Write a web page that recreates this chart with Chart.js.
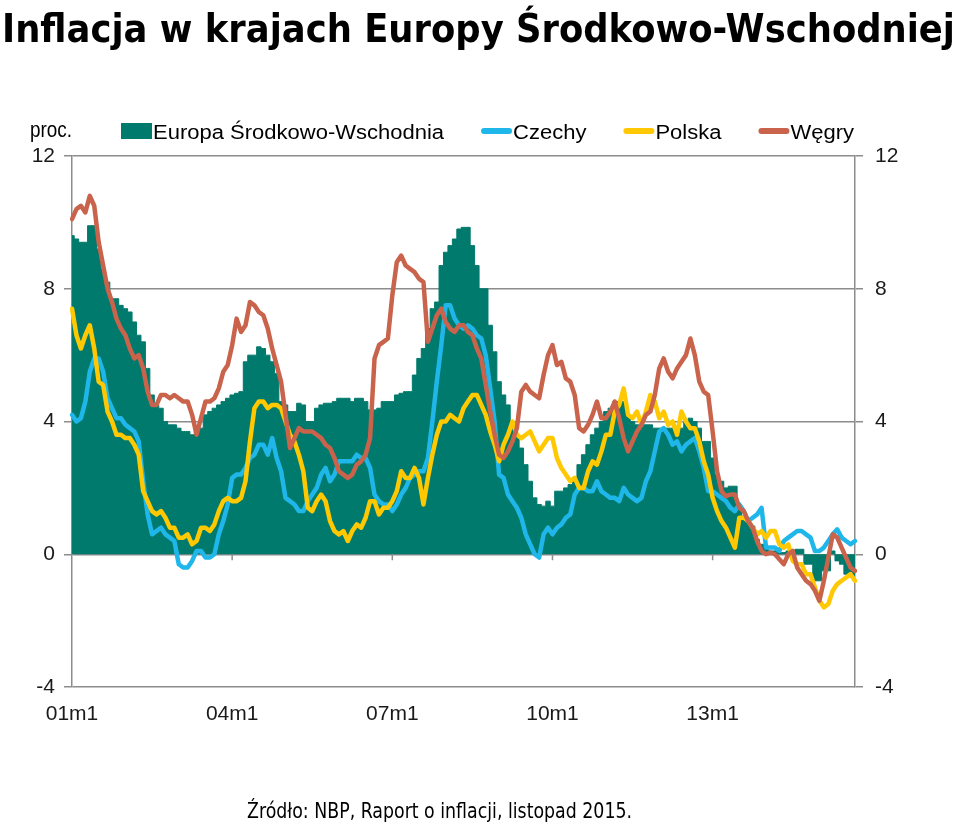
<!DOCTYPE html>
<html>
<head>
<meta charset="utf-8">
<title>Inflacja w krajach Europy Środkowo-Wschodniej</title>
<script src="https://cdn.jsdelivr.net/npm/chart.js@4.4.1/dist/chart.umd.min.js"></script>
<style>
  html, body { margin: 0; padding: 0; background: #fff; }
  #wrap { position: relative; width: 960px; height: 822px; }
</style>
</head>
<body>
<div id="wrap"><canvas id="inflChart" width="960" height="822"></canvas></div>
<script>
// months 2001m1 .. 2015m9
const months = [];
for (let y = 1; y <= 15; y++) {
  for (let m = 1; m <= 12; m++) {
    if (y === 15 && m > 9) break;
    months.push((y < 10 ? '0' : '') + y + 'm' + m);
  }
}
const tickLabels = ['01m1', '04m1', '07m1', '10m1', '13m1'];

// CPI r/r, proc.
const cee = [
  9.6, 9.5, 9.4, 9.4, 9.9, 9.9, 9.2, 8.6, 8.2, 7.7, 7.7, 7.5,      // 2001
  7.4, 7.3, 7.0, 6.6, 6.4, 5.6, 4.8, 4.5, 4.4, 4.0, 3.9, 3.9,      // 2002
  3.8, 3.7, 3.7, 3.6, 3.7, 3.8, 4.2, 4.3, 4.4, 4.5, 4.6, 4.7,      // 2003
  4.8, 4.85, 4.9, 5.8, 6.0, 6.0, 6.25, 6.2, 6.0, 5.8, 5.45, 4.6,   // 2004
  4.5, 4.3, 4.3, 4.55, 4.5, 4.0, 4.0, 4.4, 4.5, 4.55, 4.55, 4.6,   // 2005
  4.7, 4.7, 4.7, 4.6, 4.7, 4.7, 4.6, 4.35, 4.35, 4.4, 4.6, 4.6,    // 2006
  4.6, 4.8, 4.85, 4.9, 4.9, 5.4, 5.9, 6.2, 6.8, 7.4, 7.6, 8.7,     // 2007
  9.1, 9.3, 9.5, 9.8, 9.85, 9.85, 9.3, 8.7, 8.0, 8.0, 6.9, 6.1,    // 2008
  5.2, 4.8, 4.5, 4.0, 3.6, 3.2, 2.7, 2.2, 1.7, 1.5, 1.45, 1.6,     // 2009
  1.45, 1.9, 1.9, 2.0, 2.1, 2.3, 2.7, 3.0, 3.3, 3.6, 3.8, 4.0,     // 2010
  4.3, 4.4, 4.6, 4.6, 4.6, 4.2, 4.0, 3.9, 3.9, 3.9, 3.9, 3.8,      // 2011
  3.8, 3.8, 3.8, 3.8, 3.8, 3.8, 4.0, 4.1, 4.0, 3.8, 3.4, 3.4,      // 2012
  2.9, 2.4, 2.2, 2.0, 2.05, 2.05, 1.5, 1.15, 1.0, 0.85, 0.45, 0.3, // 2013
  0.2, 0.1, 0.1, 0.05, 0.05, 0.1, 0.1, 0.15, 0.15, -0.3, -0.3, -0.8, // 2014
  -0.8, -0.5, -0.5, 0.1, -0.2, -0.3, -0.6, -0.7, -0.7              // 2015
];
const czechy = [
  4.2, 4.0, 4.1, 4.6, 5.5, 5.9, 5.9, 5.5, 4.7, 4.4, 4.1, 4.1,
  3.9, 3.8, 3.7, 3.4, 2.2, 1.2, 0.6, 0.7, 0.8, 0.6, 0.5, 0.4,
  -0.3, -0.4, -0.4, -0.2, 0.1, 0.1, -0.1, -0.1, 0.0, 0.6, 1.0, 1.5,
  2.3, 2.4, 2.4, 2.6, 2.9, 3.0, 3.3, 3.3, 3.0, 3.5, 2.9, 2.5,
  1.7, 1.6, 1.5, 1.3, 1.3, 1.6, 1.8, 2.0, 2.4, 2.6, 2.2, 2.4,
  2.8, 2.8, 2.8, 2.8, 3.0, 2.9, 2.9, 2.6, 1.8, 1.6, 1.5, 1.5,
  1.3, 1.5, 1.8, 2.0, 2.3, 2.4, 2.5, 2.5, 2.9, 4.0, 5.2, 6.3,
  7.5, 7.5, 7.1, 6.9, 6.8, 6.9, 6.8, 6.6, 6.5, 6.0, 5.0, 4.0,
  2.4, 2.3, 1.8, 1.6, 1.4, 1.1, 0.6, 0.3, 0.0, -0.1, 0.6, 0.8,
  0.6, 0.8, 0.9, 1.1, 1.2, 1.8, 2.0, 2.0, 1.9, 1.9, 2.2, 1.9,
  1.8, 1.7, 1.7, 1.6, 2.0, 1.8, 1.7, 1.6, 1.7, 2.2, 2.5, 3.1,
  3.7, 3.8, 3.6, 3.3, 3.4, 3.1, 3.3, 3.4, 3.5, 3.1, 2.6, 1.9,
  1.9, 1.8, 1.7, 1.6, 1.4, 1.3, 1.5, 1.3, 1.0, 1.1, 1.2, 1.4,
  0.2, 0.2, 0.2, 0.1, 0.4, 0.5, 0.6, 0.7, 0.7, 0.6, 0.5, 0.1,
  0.1, 0.2, 0.4, 0.6, 0.75, 0.5, 0.4, 0.3, 0.4
];
const polska = [
  7.4, 6.6, 6.2, 6.6, 6.9, 6.2, 5.2, 5.1, 4.3, 4.0, 3.6, 3.6,
  3.5, 3.5, 3.3, 3.0, 1.9, 1.6, 1.3, 1.2, 1.3, 1.1, 0.8, 0.8,
  0.5, 0.5, 0.6, 0.3, 0.4, 0.8, 0.8, 0.7, 0.9, 1.3, 1.6, 1.7,
  1.6, 1.6, 1.7, 2.2, 3.4, 4.4, 4.6, 4.6, 4.4, 4.5, 4.5, 4.4,
  4.0, 3.6, 3.4, 3.0, 2.5, 1.4, 1.3, 1.6, 1.8, 1.6, 1.0, 0.7,
  0.6, 0.7, 0.4, 0.7, 0.9, 0.8, 1.1, 1.6, 1.6, 1.2, 1.4, 1.4,
  1.6, 1.9, 2.5, 2.3, 2.3, 2.6, 2.3, 1.5, 2.3, 3.0, 3.6, 4.0,
  4.0, 4.2, 4.1, 4.0, 4.4, 4.6, 4.8, 4.8, 4.5, 4.2, 3.7, 3.3,
  2.8, 3.3, 3.6, 4.0, 3.6, 3.5, 3.6, 3.7, 3.4, 3.1, 3.3, 3.5,
  3.5, 2.9, 2.6, 2.4, 2.2, 2.3, 2.0, 2.0, 2.5, 2.8, 2.7, 3.1,
  3.6, 3.6, 4.3, 4.5, 5.0, 4.2, 4.1, 4.3, 3.9, 4.3, 4.8, 4.6,
  4.1, 4.3, 3.9, 4.0, 3.6, 4.3, 4.0, 3.8, 3.8, 3.4, 2.8, 2.4,
  1.7, 1.3, 1.0, 0.8, 0.5, 0.2, 1.1, 1.1, 1.0, 0.8, 0.6, 0.7,
  0.5, 0.7, 0.7, 0.3, 0.2, 0.3, -0.2, -0.3, -0.3, -0.6, -0.6, -1.0,
  -1.4, -1.6, -1.5, -1.1, -0.9, -0.8, -0.7, -0.6, -0.8
];
const wegry = [
  10.1, 10.4, 10.5, 10.3, 10.8, 10.5, 9.4, 8.7, 8.0, 7.6, 7.1, 6.8,
  6.6, 6.2, 5.9, 6.0, 5.6, 4.9, 4.5, 4.5, 4.8, 4.8, 4.7, 4.8,
  4.7, 4.6, 4.6, 4.2, 3.6, 4.1, 4.6, 4.6, 4.7, 5.0, 5.5, 5.7,
  6.3, 7.1, 6.7, 6.9, 7.6, 7.5, 7.3, 7.2, 6.8, 6.2, 5.7, 5.2,
  4.2, 3.2, 3.5, 3.8, 3.7, 3.7, 3.7, 3.6, 3.5, 3.3, 3.2, 2.9,
  2.5, 2.4, 2.3, 2.4, 2.7, 2.8, 3.0, 3.5, 5.9, 6.3, 6.4, 6.5,
  7.8, 8.8, 9.0, 8.7, 8.6, 8.5, 8.3, 8.2, 6.4, 6.8, 7.2, 7.4,
  7.0, 6.8, 6.7, 6.9, 6.9, 6.7, 6.6, 6.2, 5.9, 5.1, 4.3, 3.6,
  3.0, 2.9, 3.1, 3.4, 3.8, 4.9, 5.1, 4.9, 4.8, 4.7, 5.4, 6.0,
  6.3, 5.7, 5.8, 5.3, 5.2, 4.8, 3.8, 3.7, 3.9, 4.2, 4.6, 4.1,
  4.1, 4.3, 4.6, 4.1, 3.5, 3.1, 3.4, 3.7, 3.9, 4.2, 4.3, 4.8,
  5.6, 5.9, 5.5, 5.3, 5.6, 5.8, 6.0, 6.5, 6.0, 5.2, 4.9, 4.8,
  3.7, 2.5, 1.9, 1.75, 1.8, 1.8, 1.4, 1.3, 1.0, 0.8, 0.4, 0.1,
  0.0, 0.05, 0.0, -0.15, -0.3, 0.0, 0.1, -0.4, -0.6, -0.8, -0.9, -1.1,
  -1.4, -0.8, -0.1, 0.6, 0.5, 0.2, -0.1, -0.4, -0.5
];

const gridColor = '#8c8c8c';
const textColor = '#1a1a1a';
const tickFont = { family: '"Liberation Sans", Arial, sans-serif', size: 21 };

// stretch/squeeze a text to a given width (the original artwork is not at its natural width)
function drawFitted(ctx, text, font, x, y, width) {
  ctx.save();
  ctx.font = font;
  ctx.fillStyle = '#000';
  ctx.textAlign = 'left';
  ctx.textBaseline = 'alphabetic';
  const w = ctx.measureText(text).width;
  ctx.translate(x, y);
  ctx.scale(width / w, 1);
  ctx.fillText(text, 0, 0);
  ctx.restore();
}

const decor = {
  id: 'decor',
  afterDraw(chart) {
    const ctx = chart.ctx;
    drawFitted(ctx, 'Inflacja w krajach Europy Środkowo-Wschodniej', 'bold 39px "DejaVu Sans", Verdana, sans-serif', 2, 42, 953);
    drawFitted(ctx, 'Źródło: NBP, Raport o inflacji, listopad 2015.', '21px "DejaVu Sans", Tahoma, sans-serif', 247, 818, 385);
    drawFitted(ctx, 'proc.', '22px "Liberation Sans", Arial, sans-serif', 30, 137, 42);

    // legend
    ctx.save();
    let lx = 121;
    const legendFont = '20px "Liberation Sans", Arial, sans-serif';
    chart.data.datasets.forEach(ds => {
      if (ds.fill) {
        ctx.fillStyle = ds.backgroundColor;
        ctx.fillRect(lx, 123, 31, 16);
      } else {
        ctx.strokeStyle = ds.borderColor;
        ctx.lineWidth = 6;
        ctx.lineCap = 'round';
        ctx.beginPath();
        ctx.moveTo(lx + 3, 131);
        ctx.lineTo(lx + 28, 131);
        ctx.stroke();
      }
      ctx.font = legendFont;
      const w = ctx.measureText(ds.label).width * 1.1;
      drawFitted(ctx, ds.label, legendFont, lx + 32, 138.5, w);
      lx += 32 + w + 37;
    });

    // small tick marks under the zero line
    const xs = chart.scales.x;
    const y0 = chart.scales.y.getPixelForValue(0);
    ctx.strokeStyle = gridColor;
    ctx.lineWidth = 1.5;
    ctx.lineCap = 'butt';
    tickLabels.slice(1).forEach(l => {
      const px = xs.getPixelForValue(months.indexOf(l));
      ctx.beginPath();
      ctx.moveTo(px, y0);
      ctx.lineTo(px, y0 + 6);
      ctx.stroke();
    });
    ctx.restore();
  }
};

const lineStyle = {
  type: 'line',
  borderWidth: 4.5,
  pointRadius: 0,
  tension: 0,
  fill: false,
  borderJoinStyle: 'round',
  borderCapStyle: 'round'
};

new Chart(document.getElementById('inflChart'), {
  type: 'line',
  data: {
    labels: months,
    datasets: [
      {
        label: 'Europa Środkowo-Wschodnia',
        data: cee,
        stepped: 'middle',
        fill: 'origin',
        backgroundColor: '#007a6c',
        borderColor: '#007a6c',
        borderWidth: 1,
        pointRadius: 0,
        order: 4
      },
      Object.assign({ label: 'Czechy', data: czechy, borderColor: '#1fb6ea', order: 3 }, lineStyle),
      Object.assign({ label: 'Polska', data: polska, borderColor: '#ffc800', order: 2 }, lineStyle),
      Object.assign({ label: 'Węgry', data: wegry, borderColor: '#c9634b', order: 1 }, lineStyle)
    ]
  },
  options: {
    responsive: false,
    animation: false,
    devicePixelRatio: 1,
    layout: { padding: { top: 156, left: 0, right: 0, bottom: 0 } },
    plugins: {
      legend: { display: false },
      tooltip: { enabled: false }
    },
    scales: {
      x: {
        type: 'category',
        offset: false,
        grid: { display: false, drawTicks: false },
        border: { display: false },
        ticks: {
          autoSkip: false,
          minRotation: 0,
          maxRotation: 0,
          padding: 15,
          color: textColor,
          font: tickFont,
          callback: function (value) {
            const l = this.getLabelForValue(value);
            return tickLabels.includes(l) ? l : '';
          }
        },
        afterFit: s => { s.height = 135; }
      },
      y: {
        position: 'left',
        min: -4,
        max: 12,
        ticks: { stepSize: 4, padding: 9, color: textColor, font: tickFont },
        grid: { color: gridColor, lineWidth: 1.5, tickLength: 8 },
        border: { color: gridColor, width: 1.5 },
        afterFit: s => { s.width = 72; }
      },
      y2: {
        position: 'right',
        min: -4,
        max: 12,
        ticks: { stepSize: 4, padding: 12, color: textColor, font: tickFont },
        grid: { drawOnChartArea: false, color: gridColor, lineWidth: 1.5, tickLength: 8 },
        border: { color: gridColor, width: 1.5 },
        afterFit: s => { s.width = 105; }
      }
    }
  },
  plugins: [decor]
});
</script>
</body>
</html>
